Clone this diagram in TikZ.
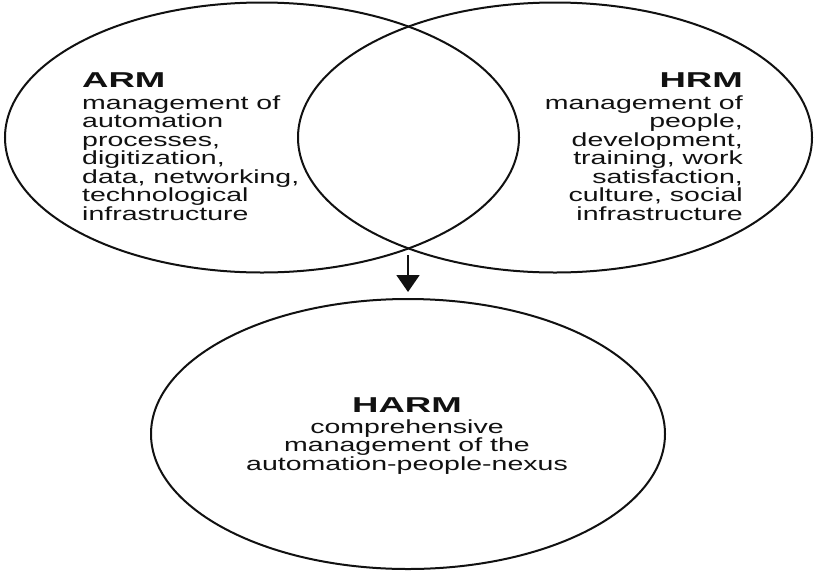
\documentclass[tikz,border=0pt]{standalone}
\usepackage{fontspec}
\usetikzlibrary{shapes.geometric,arrows.meta}
\newfontfamily\bodyfont[FakeStretch=1.5]{Liberation Sans}
\newfontfamily\titlefont[FakeStretch=1.7]{Liberation Sans}
\definecolor{ink}{HTML}{111111}
\begin{document}
\begin{tikzpicture}[x=1pt,y=-1pt,
  setbox/.style={ellipse, draw=ink, line width=2pt, inner sep=0pt,
    minimum width=514pt, minimum height=270pt},
  titletext/.style={inner sep=0pt, text=ink, font=\titlefont\bfseries\fontsize{21.5}{22}\selectfont},
  bodytext/.style={inner sep=0pt, text=ink, font=\bodyfont\fontsize{19}{18.5}\selectfont},
  arrowline/.style={draw=ink, line width=2pt, -{Triangle[width=23pt,length=17pt]}, shorten >=6pt}]
\useasboundingbox (0,0) rectangle (814,571);
\fill[white] (0,0) rectangle (814,571);
\node[setbox] (arm) at (262,137.5) {};
\node[setbox] (hrm) at (555,137.5) {};
\node[setbox] (harm) at (408,434) {};
% texts
\node[titletext, anchor=base west] (armtitle) at (82,87.5) {ARM};
\node[bodytext, anchor=north west, align=left] (armbody) at (82,95.5)
  {management of\\automation\\processes,\\digitization,\\data, networking,\\technological\\infrastructure};
\node[titletext, anchor=base east] (hrmtitle) at (743,87.5) {HRM};
\node[bodytext, anchor=north east, align=right] (hrmbody) at (743,95.5)
  {management of\\people,\\development,\\training, work\\satisfaction,\\culture, social\\infrastructure};
\node[titletext, anchor=base] (harmtitle) at (407,412.5) {HARM};
\node[bodytext, anchor=north, align=center] (harmbody) at (407,419.5)
  {comprehensive\\management of the\\automation-people-nexus};
% arrow
\coordinate (arrowstart) at (408,255);
\draw[arrowline] (arrowstart) -- (harm.north);
\end{tikzpicture}
\end{document}
